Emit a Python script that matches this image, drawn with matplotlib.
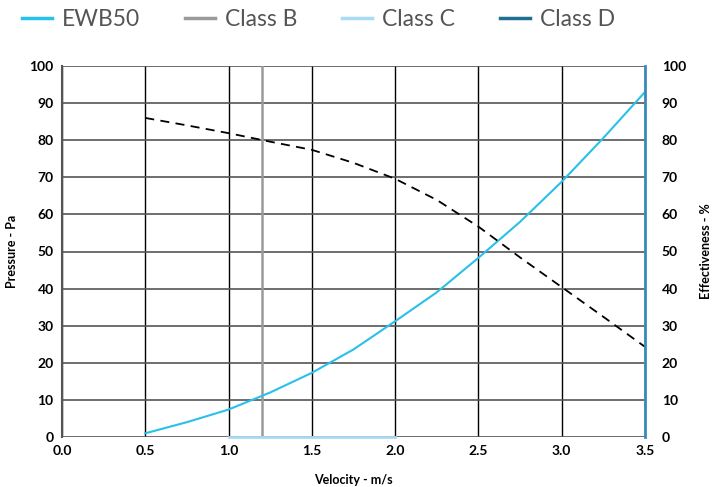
import matplotlib
matplotlib.use("Agg")
import matplotlib.pyplot as plt
from matplotlib.lines import Line2D

plt.rcParams['font.family'] = ['Lato', 'DejaVu Sans']

velocity = [0.5, 0.75, 1.0, 1.25, 1.5, 1.75, 2.0, 2.25, 2.5, 2.75, 3.0, 3.25, 3.5]
pressure_ewb50 = [1, 4, 7.4, 12, 17.3, 23.6, 31.2, 39, 48.3, 58, 68.8, 80.6, 93]
effectiveness = [86, 84, 81.9, 79.6, 77.4, 73.9, 69.6, 63.9, 56.7, 48.4, 40.4, 32.4, 24.3]
class_b_x = [1.2, 1.2]
class_b_y = [0, 100]
class_c_x = [1.0, 2.0]
class_c_y = [0, 0]
class_d_x = [3.5, 3.5]
class_d_y = [0, 100]
xticks = [0.0, 0.5, 1.0, 1.5, 2.0, 2.5, 3.0, 3.5]
yticks = list(range(0, 101, 10))

c_ewb = '#29c0ea'
c_b = '#9a9a9a'
c_c = '#a8dbf5'
c_d = '#1f6f93'

fig = plt.figure(figsize=(7.16, 4.87), dpi=100)
ax = fig.add_axes([62/716, 1-437/487, (645-62)/716, (437-66)/487])
ax.set_xlim(0, 3.5)
ax.set_ylim(0, 100)

for x in xticks:
    ax.axvline(x, color='black', lw=1.0, zorder=1)
for y in yticks:
    ax.axhline(y, color='#555555', lw=1.2, zorder=1)

ax.plot(class_b_x, class_b_y, color=c_b, lw=1.8, zorder=2)
ax.plot(class_c_x, class_c_y, color=c_c, lw=2.0, zorder=3, clip_on=False)
ax.plot(velocity, pressure_ewb50, color=c_ewb, lw=1.5, zorder=4)

ax2 = ax.twinx()
ax2.set_ylim(0, 100)
ax2.plot(velocity, effectiveness, color='black', lw=1.3, ls=(0, (5, 3.5)), zorder=4)
ax2.plot(class_d_x, class_d_y, color='#3a8bb8', lw=2.0, zorder=5, clip_on=False)

for a in (ax, ax2):
    for s in a.spines.values():
        s.set_visible(False)
ax.spines['left'].set_visible(True)
ax.spines['left'].set_color('#555555')
ax.spines['left'].set_linewidth(1.5)

ax.set_xticks(xticks)
ax.set_xticklabels([f"{v:.1f}" for v in xticks])
ax.set_yticks(yticks)
ax2.set_yticks(yticks)
ax.tick_params(length=0, labelsize=10, pad=6)
ax2.tick_params(length=0, labelsize=10, pad=12)
for lab in ax.get_xticklabels() + ax.get_yticklabels() + ax2.get_yticklabels():
    lab.set_fontweight('bold')

ax.set_xlabel('Velocity - m/s', fontsize=9, fontweight='bold', labelpad=12)
ax.set_ylabel('Pressure - Pa', fontsize=9, fontweight='bold', labelpad=8)
ax2.set_ylabel('Effectiveness - %', fontsize=9, fontweight='bold', labelpad=10)

handles = [Line2D([], [], color=c_ewb, lw=2.5),
           Line2D([], [], color=c_b, lw=2.5),
           Line2D([], [], color=c_c, lw=2.5),
           Line2D([], [], color=c_d, lw=2.5)]
leg = fig.legend(handles, ['EWB50', 'Class B', 'Class C', 'Class D'],
                 loc='center left', bbox_to_anchor=(22/716, 1-20/487), ncol=4, frameon=False,
                 prop={'size': 16.5, 'weight': 'normal'},
                 handlelength=1.3, columnspacing=1.95, handletextpad=0.45,
                 borderpad=0, borderaxespad=0, labelcolor='#555555')

fig.savefig('out.png', dpi=100)
